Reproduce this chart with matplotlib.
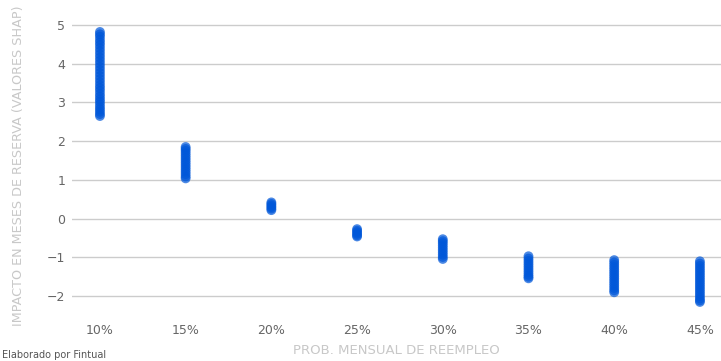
import numpy as np
import matplotlib.pyplot as plt

# probabilidad mensual de reempleo (%)
prob = [10, 15, 20, 25, 30, 35, 40, 45]

# valores SHAP por grupo de probabilidad
shap_10 = [2.65, 2.70, 2.76, 2.82, 2.88, 2.95, 3.02, 3.08, 3.15, 3.22, 3.30, 3.37,
           3.44, 3.52, 3.60, 3.68, 3.76, 3.84, 3.92, 4.00, 4.08, 4.16, 4.24, 4.32,
           4.40, 4.48, 4.55, 4.62, 4.70, 4.76, 4.82]
shap_15 = [1.04, 1.09, 1.15, 1.21, 1.27, 1.33, 1.39, 1.45, 1.51, 1.57, 1.63,
           1.69, 1.75, 1.80, 1.85]
shap_20 = [0.22, 0.26, 0.30, 0.34, 0.38, 0.42]
shap_25 = [-0.27, -0.31, -0.35, -0.39, -0.43, -0.46]
shap_30 = [-0.53, -0.58, -0.63, -0.69, -0.75, -0.81, -0.87, -0.93, -0.99, -1.04]
shap_35 = [-0.97, -1.03, -1.09, -1.15, -1.21, -1.27, -1.33, -1.39, -1.45, -1.50, -1.54]
shap_40 = [-1.07, -1.13, -1.19, -1.25, -1.31, -1.37, -1.43, -1.49, -1.55, -1.61,
           -1.67, -1.73, -1.79, -1.85, -1.90]
shap_45 = [-1.10, -1.16, -1.22, -1.28, -1.34, -1.40, -1.46, -1.52, -1.58, -1.64,
           -1.70, -1.76, -1.82, -1.88, -1.94, -2.00, -2.06, -2.11, -2.15]

grupos = [shap_10, shap_15, shap_20, shap_25, shap_30, shap_35, shap_40, shap_45]

fig = plt.figure(figsize=(7.21, 3.61), dpi=100)
# ejes desde x=72 px hasta el borde derecho
ax = fig.add_axes([72 / 721, 0.126, 1 - 72 / 721, 0.837])

for p, vals in zip(prob, grupos):
    x = np.full(len(vals), p / 100)
    ax.scatter(x, vals, s=50, color='#0057d9', alpha=0.7, edgecolors='none', zorder=3)

ax.set_xlim(0.0837, 0.4623)
ax.set_ylim(-2.5, 5.3)

ax.set_xticks([p / 100 for p in prob])
ax.set_xticklabels([f'{p}%' for p in prob])
ax.set_yticks([-2, -1, 0, 1, 2, 3, 4, 5])
ax.set_yticklabels(['\u22122', '\u22121', '0', '1', '2', '3', '4', '5'])

ax.grid(axis='y', color='#cccccc', linewidth=1)
ax.set_axisbelow(True)
for s in ax.spines.values():
    s.set_visible(False)
ax.tick_params(axis='both', length=0, labelsize=9, labelcolor='#666666')
ax.tick_params(axis='y', pad=5)
ax.tick_params(axis='x', pad=6)

ax.set_xlabel('PROB. MENSUAL DE REEMPLEO', fontsize=9.5, color='#c8c8c8', labelpad=5)
ax.set_ylabel('IMPACTO EN MESES DE RESERVA (VALORES SHAP)', fontsize=9.2,
              color='#c8c8c8', va='center')
ax.yaxis.set_label_coords(-0.0832, 0.496)

fig.text(0.003, 0.003, 'Elaborado por Fintual', fontsize=7, color='#555555',
         ha='left', va='bottom')

fig.savefig('out.png', dpi=100)
